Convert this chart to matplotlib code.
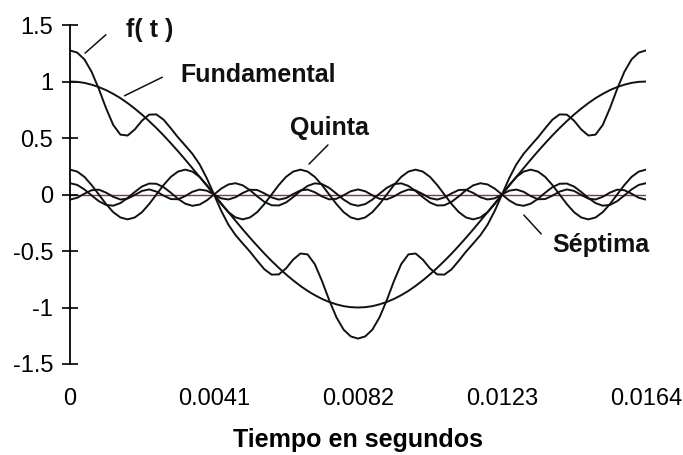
import numpy as np
import matplotlib
matplotlib.use("Agg")
import matplotlib.pyplot as plt

plt.rcParams['font.family'] = ['Liberation Sans', 'DejaVu Sans']

# one period, 81 samples
t = np.linspace(0, 0.0164, 81)

fundamental = [1.000, 0.997, 0.988, 0.972, 0.951, 0.924, 0.891, 0.853, 0.809, 0.760, 0.707,
               0.649, 0.588, 0.523, 0.454, 0.383, 0.309, 0.233, 0.156, 0.078, 0.000,
               -0.078, -0.156, -0.233, -0.309, -0.383, -0.454, -0.523, -0.588, -0.649, -0.707,
               -0.760, -0.809, -0.853, -0.891, -0.924, -0.951, -0.972, -0.988, -0.997, -1.000,
               -0.997, -0.988, -0.972, -0.951, -0.924, -0.891, -0.853, -0.809, -0.760, -0.707,
               -0.649, -0.588, -0.523, -0.454, -0.383, -0.309, -0.233, -0.156, -0.078, 0.000,
               0.078, 0.156, 0.233, 0.309, 0.383, 0.454, 0.523, 0.588, 0.649, 0.707,
               0.760, 0.809, 0.853, 0.891, 0.924, 0.951, 0.972, 0.988, 0.997, 1.000]

quinta = [0.22, 0.203, 0.156, 0.084, 0.0, -0.084, -0.156, -0.203, -0.22, -0.203, -0.156, -0.084, 0.0, 0.084, 0.156, 0.203,
          0.22, 0.203, 0.156, 0.084, 0.0, -0.084, -0.156, -0.203, -0.22, -0.203, -0.156, -0.084, 0.0, 0.084, 0.156, 0.203,
          0.22, 0.203, 0.156, 0.084, 0.0, -0.084, -0.156, -0.203, -0.22, -0.203, -0.156, -0.084, 0.0, 0.084, 0.156, 0.203,
          0.22, 0.203, 0.156, 0.084, 0.0, -0.084, -0.156, -0.203, -0.22, -0.203, -0.156, -0.084, 0.0, 0.084, 0.156, 0.203,
          0.22, 0.203, 0.156, 0.084, 0.0, -0.084, -0.156, -0.203, -0.22, -0.203, -0.156, -0.084, 0.0, 0.084, 0.156, 0.203,
          0.22]

septima = [0.100, 0.085, 0.045, -0.008, -0.059, -0.092, -0.099, -0.076, -0.031, 0.023, 0.071,
           0.097, 0.095, 0.065, 0.016, -0.038, -0.081, -0.100, -0.089, -0.052, 0.000,
           0.052, 0.089, 0.100, 0.081, 0.038, -0.016, -0.065, -0.095, -0.097, -0.071,
           -0.023, 0.031, 0.076, 0.099, 0.092, 0.059, 0.008, -0.045, -0.085, -0.100,
           -0.085, -0.045, 0.008, 0.059, 0.092, 0.099, 0.076, 0.031, -0.023, -0.071,
           -0.097, -0.095, -0.065, -0.016, 0.038, 0.081, 0.100, 0.089, 0.052, 0.000,
           -0.052, -0.089, -0.100, -0.081, -0.038, 0.016, 0.065, 0.095, 0.097, 0.071,
           0.023, -0.031, -0.076, -0.099, -0.092, -0.059, -0.008, 0.045, 0.085, 0.100]

# small unlabeled harmonic near zero
undecima = [-0.045, -0.029, 0.007, 0.038, 0.043, 0.017, -0.020, -0.044, -0.036, -0.004, 0.032,
            0.045, 0.026, -0.010, -0.040, -0.042, -0.014, 0.024, 0.044, 0.034, 0.000,
            -0.034, -0.044, -0.024, 0.014, 0.042, 0.040, 0.010, -0.026, -0.045, -0.032,
            0.004, 0.036, 0.044, 0.020, -0.017, -0.043, -0.038, -0.007, 0.029, 0.045,
            0.029, -0.007, -0.038, -0.043, -0.017, 0.020, 0.044, 0.036, 0.004, -0.032,
            -0.045, -0.026, 0.010, 0.040, 0.042, 0.014, -0.024, -0.044, -0.034, 0.000,
            0.034, 0.044, 0.024, -0.014, -0.042, -0.040, -0.010, 0.026, 0.045, 0.032,
            -0.004, -0.036, -0.044, -0.020, 0.017, 0.043, 0.038, 0.007, -0.029, -0.045]

f_t = [1.275, 1.256, 1.196, 1.086, 0.935, 0.765, 0.616, 0.530, 0.522, 0.576, 0.654,
       0.707, 0.709, 0.662, 0.586, 0.506, 0.434, 0.360, 0.267, 0.144, 0.000,
       -0.144, -0.267, -0.360, -0.434, -0.506, -0.586, -0.662, -0.709, -0.707, -0.654,
       -0.576, -0.522, -0.530, -0.616, -0.765, -0.935, -1.086, -1.196, -1.256, -1.275,
       -1.256, -1.196, -1.086, -0.935, -0.765, -0.616, -0.530, -0.522, -0.576, -0.654,
       -0.707, -0.709, -0.662, -0.586, -0.506, -0.434, -0.360, -0.267, -0.144, 0.000,
       0.144, 0.267, 0.360, 0.434, 0.506, 0.586, 0.662, 0.709, 0.707, 0.654,
       0.576, 0.522, 0.530, 0.616, 0.765, 0.935, 1.086, 1.196, 1.256, 1.275]

x_ticks = [0, 0.0041, 0.0082, 0.0123, 0.0164]
x_labels = ["0", "0.0041", "0.0082", "0.0123", "0.0164"]
y_ticks = [-1.5, -1, -0.5, 0, 0.5, 1, 1.5]
y_labels = ["-1.5", "-1", "-0.5", "0", "0.5", "1", "1.5"]

fig = plt.figure(figsize=(6.83, 4.55), dpi=100)
ax = fig.add_axes([0.1025, 0.2, 0.8433, 0.745])

ax.axhline(0, color='#6b4545', lw=1.0, zorder=1)
for series in [fundamental, quinta, septima, undecima, f_t]:
    ax.plot(t, series, color='#111111', lw=1.4, zorder=2)

ax.set_xlim(0, 0.0164)
ax.set_ylim(-1.5, 1.5)
ax.set_yticks(y_ticks)
ax.set_yticklabels(y_labels, fontsize=17)
ax.set_xticks(x_ticks)
ax.set_xticklabels(x_labels, fontsize=17)
ax.tick_params(axis='y', direction='inout', length=12, width=1.2, pad=6)
ax.tick_params(axis='x', length=0, pad=17)
for side in ['top', 'right', 'bottom']:
    ax.spines[side].set_visible(False)
ax.spines['left'].set_linewidth(1.3)

ax.set_xlabel("Tiempo en segundos", fontsize=18, fontweight='bold', labelpad=13)

bold = dict(fontsize=18, fontweight='bold', color='#111111')
line = dict(arrowstyle='-', lw=1.1, color='#111111')
ax.text(0.00228, 1.456, "f( t )", ha='center', va='center', **bold)
ax.annotate('', xy=(0.00037, 1.235), xytext=(0.00108, 1.43), arrowprops=line)
ax.text(0.00313, 1.058, "Fundamental", ha='left', va='center', **bold)
ax.annotate('', xy=(0.00148, 0.863), xytext=(0.0027, 1.049), arrowprops=line)
ax.text(0.0074, 0.588, "Quinta", ha='center', va='center', **bold)
ax.annotate('', xy=(0.00675, 0.252), xytext=(0.0074, 0.456), arrowprops=line)
ax.text(0.01372, -0.447, "Séptima", ha='left', va='center', **bold)
ax.annotate('', xy=(0.01287, -0.164), xytext=(0.01347, -0.367), arrowprops=line)

fig.savefig("out.png", dpi=100)
